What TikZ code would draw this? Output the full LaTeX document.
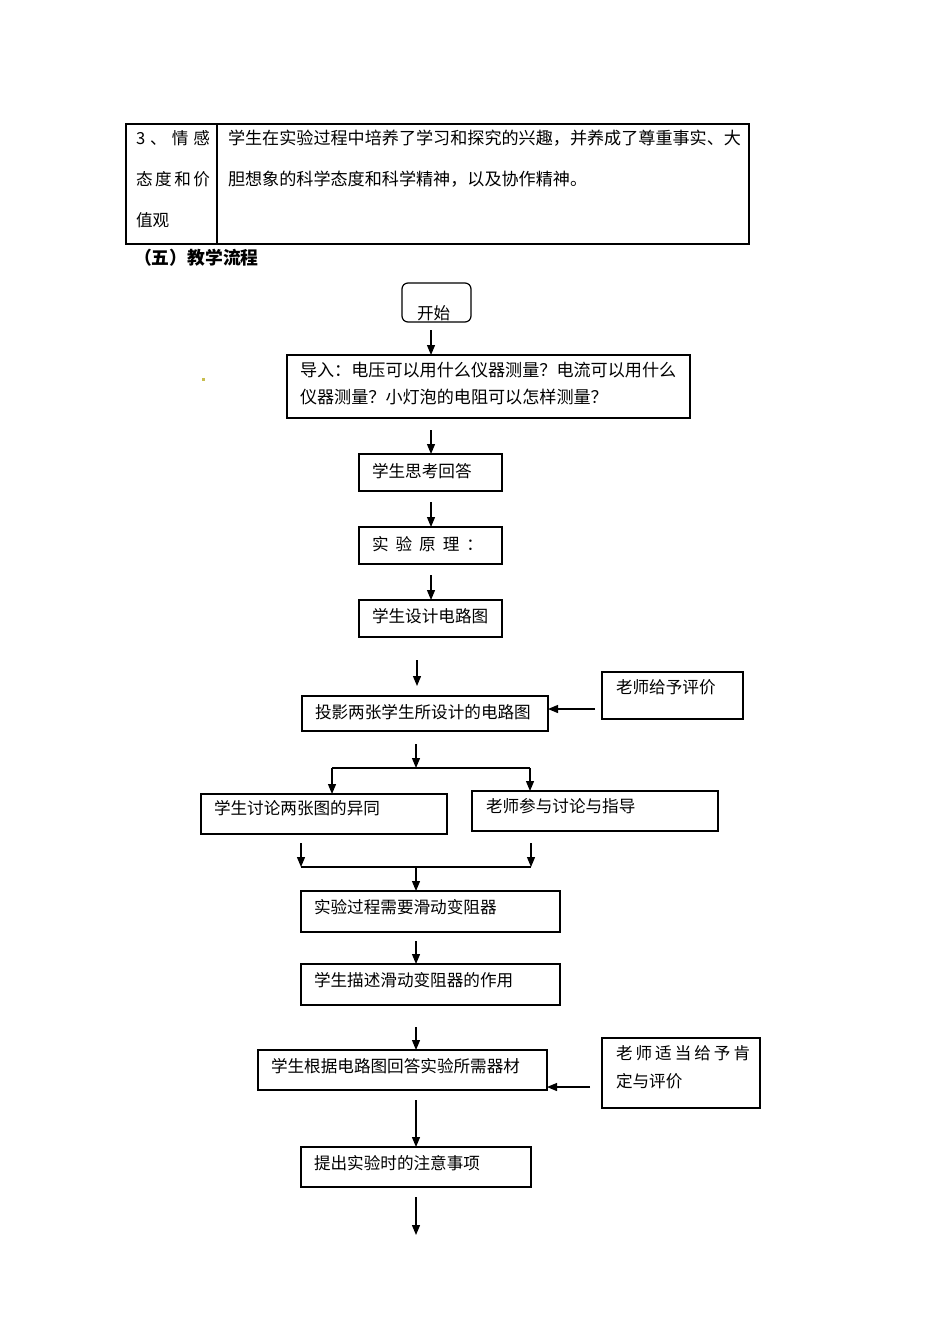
\documentclass[tikz,border=0pt]{standalone}
\usepackage{fontspec}
\setmainfont{Noto Sans CJK SC}
\usetikzlibrary{arrows.meta}
\begin{document}
\begin{tikzpicture}[x=1pt,y=-1pt,
  font=\fontsize{16.6}{20}\selectfont,
  box/.style={draw, line width=1.2pt, inner sep=0pt, outer sep=0pt, anchor=north west},
  txt/.style={inner sep=0pt, outer sep=0pt, anchor=base west},
  big/.style={font=\fontsize{17.1}{20}\selectfont},
  arr/.style={line width=1.2pt, -{Triangle[length=10pt,width=8pt]}},
  ln/.style={line width=1.2pt}]
\useasboundingbox (0,0) rectangle (950,1344);
% table
\node[box, minimum width=623pt, minimum height=120pt] (tbl) at (126,124) {};
\coordinate (d1) at (217,124);
\coordinate (d2) at (217,244);
\draw[ln] (d1) -- (d2);
\node[txt] (tl1) at (136,144.5) {\makebox[74pt][s]{3\hfill{}、\hfill{}情\hfill{}感}};
\node[txt] (tl2) at (136,185.5) {\makebox[74pt][s]{态\hfill{}度\hfill{}和\hfill{}价}};
\node[txt] (tl3) at (136,226.5) {值观};
\node[txt, big] (tr1) at (228,144.5) {学生在实验过程中培养了学习和探究的兴趣，并养成了尊重事实、大};
\node[txt, big] (tr2) at (228,185.5) {胆想象的科学态度和科学精神，以及协作精神。};
\node[txt, font=\fontsize{17.8}{20}\selectfont\bfseries] (head) at (134,264.5) {（五）教学流程};
% start
\node[box, rounded corners=6pt, minimum width=69pt, minimum height=39pt] (start) at (402,283) {};
\node[txt] (tstart) at (417,319) {开始};
% yellow dot
\fill[fill={rgb,255:red,200;green,190;blue,80}] (201.5,377.5) rectangle (204.5,380.5);
% intro
\node[box, minimum width=403pt, minimum height=63pt] (intro) at (287,355) {};
\node[txt, big] (ti1) at (300,376.5) {导入：电压可以用什么仪器测量？电流可以用什么};
\node[txt, big] (ti2) at (300,403.5) {仪器测量？小灯泡的电阻可以怎样测量？};
\coordinate (a1) at (431,330);
\draw[arr] (a1) -- (a1 |- intro.north);
% think
\node[box, minimum width=143pt, minimum height=37pt] (think) at (359,454) {};
\node[txt] (tthink) at (372,477) {学生思考回答};
\coordinate (a2) at (431,430);
\draw[arr] (a2) -- (a2 |- think.north);
% principle
\node[box, minimum width=143pt, minimum height=37pt] (prin) at (359,527) {};
\node[txt] (tprin) at (372,550) {实\hspace{7pt}验\hspace{7pt}原\hspace{7pt}理\hspace{7pt}：};
\coordinate (a3) at (431,502);
\draw[arr] (a3) -- (a3 |- prin.north);
% design
\node[box, minimum width=143pt, minimum height=37pt] (design) at (359,600) {};
\node[txt] (tdesign) at (372,622) {学生设计电路图};
\coordinate (a4) at (431,575);
\draw[arr] (a4) -- (a4 |- design.north);
% projection
\node[box, minimum width=246pt, minimum height=35pt] (proj) at (302,696) {};
\node[txt] (tproj) at (315,718) {投影两张学生所设计的电路图};
\coordinate (a5s) at (417,660);
\coordinate (a5e) at (417,686);
\draw[arr] (a5s) -- (a5e);
% teacher evaluation
\node[box, minimum width=141pt, minimum height=47pt] (eval) at (602,672) {};
\node[txt] (teval) at (616,693) {老师给予评价};
\coordinate (ev) at (595,709);
\draw[arr] (ev) -- (ev -| proj.east);
% split
\coordinate (a6s) at (416,744);
\coordinate (j1) at (416,768);
\coordinate (j1l) at (332,768);
\coordinate (j1r) at (530,768);
\draw[arr] (a6s) -- (j1);
\draw[ln] (j1l) -- (j1r);
% student discuss
\node[box, minimum width=246pt, minimum height=40pt] (sdisc) at (201,794) {};
\node[txt] (tsdisc) at (214,814.5) {学生讨论两张图的异同};
\node[box, minimum width=246pt, minimum height=40pt] (tdisc) at (472,791) {};
\node[txt] (ttdisc) at (486,812.5) {老师参与讨论与指导};
\draw[arr] (j1l) -- (j1l |- sdisc.north);
\draw[arr] (j1r) -- (j1r |- tdisc.north);
% merge
\coordinate (m1) at (301,843);
\coordinate (m2) at (531,843);
\coordinate (j2l) at (301,867);
\coordinate (j2r) at (531,867);
\coordinate (j2) at (416,867);
\draw[arr] (m1) -- (j2l);
\draw[arr] (m2) -- (j2r);
\draw[ln] (j2l) -- (j2r);
% need rheostat
\node[box, minimum width=259pt, minimum height=41pt] (need) at (301,891) {};
\node[txt] (tneed) at (314,913.5) {实验过程需要滑动变阻器};
\draw[arr] (j2) -- (j2 |- need.north);
% describe
\node[box, minimum width=259pt, minimum height=41pt] (desc) at (301,964) {};
\node[txt] (tdesc) at (314,986.5) {学生描述滑动变阻器的作用};
\coordinate (a7) at (416,941);
\draw[arr] (a7) -- (a7 |- desc.north);
% answer
\node[box, minimum width=289pt, minimum height=40pt] (answer) at (258,1050) {};
\node[txt] (tanswer) at (271,1072.5) {学生根据电路图回答实验所需器材};
\coordinate (a8) at (416,1027);
\draw[arr] (a8) -- (a8 |- answer.north);
% affirm
\node[box, minimum width=158pt, minimum height=70pt] (affirm) at (602,1038) {};
\node[txt] (taff1) at (616,1059.5) {老\hspace{3pt}师\hspace{3pt}适\hspace{3pt}当\hspace{3pt}给\hspace{3pt}予\hspace{3pt}肯};
\node[txt] (taff2) at (616,1087.5) {定与评价};
\coordinate (af) at (590,1087);
\draw[arr] (af) -- (af -| answer.east);
% notes
\node[box, minimum width=230pt, minimum height=40pt] (note) at (301,1147) {};
\node[txt] (tnote) at (314,1169.5) {提出实验时的注意事项};
\coordinate (a9) at (416,1100);
\draw[arr] (a9) -- (a9 |- note.north);
\coordinate (a10s) at (416,1197);
\coordinate (a10e) at (416,1235);
\draw[arr] (a10s) -- (a10e);
\end{tikzpicture}
\end{document}
